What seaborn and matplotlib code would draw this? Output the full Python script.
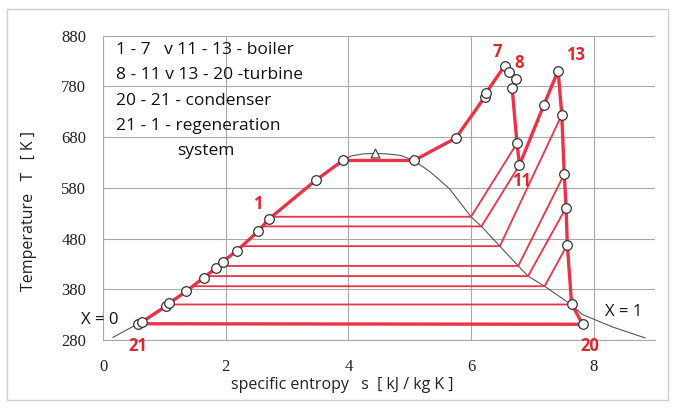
import numpy as np
import pandas as pd
import matplotlib
matplotlib.use("Agg")
import matplotlib.pyplot as plt
from matplotlib.patches import Rectangle
import seaborn as sns

# cycle points, s [kJ/kgK] and T [K], in order 21 -> 1 -> 7 -> 11 -> 13 -> 20
cycle_s = [0.57, 0.63, 1.03, 1.07, 1.36, 1.64, 1.84, 1.95, 2.18, 2.53, 2.70,
           3.47, 3.91, 5.07, 5.75, 6.23, 6.25, 6.55, 6.62, 6.74, 6.67, 6.75,
           6.79, 7.19, 7.42, 7.48, 7.52, 7.55, 7.57, 7.64, 7.82]
cycle_T = [312, 315, 347, 352, 376, 403, 421, 434, 456, 494, 518,
           595, 634, 634, 678, 760, 768, 821, 809, 795, 777, 668,
           625, 744, 811, 724, 607, 541, 468, 351, 311]

# regeneration line (21 -> 1 -> saturated liquid)
liq_s = cycle_s[:13]
liq_T = cycle_T[:13]

# bleed steam: heater temperature, point on X = 1, extraction point
bleed_T = [523, 504, 465, 426, 406, 386, 350]
bleed_s_sat = [6.00, 6.17, 6.47, 6.77, 6.93, 7.20, 7.63]
bleed_src_s = [6.75, 6.79, 7.48, 7.52, 7.55, 7.57, 7.64]
bleed_src_T = [668, 625, 724, 607, 541, 468, 351]

# saturation dome
dome_s = [0.16, 0.60, 1.36, 2.18, 2.70, 3.47, 3.91, 4.05, 4.25, 4.43, 4.62,
          4.85, 5.07, 5.35, 5.65, 6.00, 6.17, 6.47, 6.77, 6.93, 7.20, 7.63,
          7.82, 8.30, 8.84]
dome_T = [285, 314, 376, 456, 518, 595, 634, 643, 647, 648, 647,
          644, 634, 610, 578, 523, 504, 465, 426, 406, 386, 350,
          330, 306, 284]
crit_s = [4.43]
crit_T = [648]

x_ticks = [0, 2, 4, 6, 8]
y_ticks = [280, 380, 480, 580, 680, 780, 880]

red = "#ea3348"
lab_red = "#e2262e"
grid = "#a8a8a8"

sns.set_theme(style="white")
plt.rcParams["font.family"] = ["Open Sans", "DejaVu Sans"]

fig = plt.figure(figsize=(6.75, 4.08), dpi=100)
ax = fig.add_axes([0.1526, 0.1667, 0.8178, 0.7458])

ax.set_xlim(0, 9)
ax.set_ylim(280, 880)
ax.set_xticks(x_ticks)
ax.set_yticks(y_ticks)
ax.grid(True, color=grid, linewidth=0.8)
for side in ["top", "right"]:
    ax.spines[side].set_visible(False)
for side in ["left", "bottom"]:
    ax.spines[side].set_color(grid)
    ax.spines[side].set_linewidth(0.8)
ax.tick_params(axis="both", direction="out", length=5, width=0.8,
               color=grid, labelsize=12, colors="#222222")
ax.tick_params(axis="x", pad=9)
ax.tick_params(axis="y", pad=7)
for lbl in ax.get_xticklabels() + ax.get_yticklabels():
    lbl.set_fontfamily("Liberation Serif")

# saturation curve
ax.plot(dome_s, dome_T, color="#555555", linewidth=0.8, zorder=2)

# bleed lines: extraction -> X = 1 -> heater on the regeneration line
for T, s_sat, s_src, T_src in zip(bleed_T, bleed_s_sat, bleed_src_s, bleed_src_T):
    s_liq = np.interp(T, liq_T, liq_s)
    ax.plot([s_src, s_sat, s_liq], [T_src, T, T], color=red,
            linewidth=1.3, zorder=3, solid_capstyle="butt")

# main cycle, closed through the condenser
df = pd.DataFrame({"s": cycle_s + [cycle_s[0]], "T": cycle_T + [cycle_T[0]]})
sns.lineplot(data=df, x="s", y="T", sort=False, estimator=None, color=red,
             linewidth=2.4, ax=ax, zorder=4)
sns.scatterplot(x=cycle_s, y=cycle_T, ax=ax, s=48, color="white",
                edgecolor="#333333", linewidth=0.9, zorder=5)
ax.scatter(crit_s, crit_T, marker="^", s=40, facecolor="white",
           edgecolor="#444444", linewidth=0.9, zorder=5)

ax.set_xlabel("specific entropy   s  [ kJ / kg K ]", fontsize=11.5,
              color="#222222")
ax.set_ylabel("Temperature   T   [ K ]", fontsize=11.5, color="#222222")
ax.xaxis.set_label_coords(0.433, -0.12)
ax.yaxis.set_label_coords(-0.12, 0.424)

# legend text
notes = ["1 - 7   v 11 - 13 - boiler", "8 - 11 v 13 - 20 -turbine",
         "20 - 21 - condenser", "21 - 1 - regeneration"]
for i, line in enumerate(notes):
    ax.text(0.21, 852 - i * 50, line, fontsize=12.5, va="center", ha="left",
            color="#111111")
ax.text(1.21, 653, "system", fontsize=12.5, va="center", ha="left",
        color="#111111")

# point labels
for txt, s, T in [("7", 6.42, 848), ("8", 6.78, 826), ("13", 7.71, 842),
                  ("11", 6.82, 594), ("1", 2.53, 548), ("21", 0.57, 268),
                  ("20", 7.94, 268)]:
    ax.text(s, T, txt, color=lab_red, fontsize=12, fontweight="bold",
            ha="center", va="center", clip_on=False, zorder=6)
ax.text(-0.05, 319, "X = 0", fontsize=12, ha="center", va="center",
        clip_on=False, color="#111111")
ax.text(8.48, 335, "X = 1", fontsize=12, ha="center", va="center",
        color="#111111")

fig.add_artist(Rectangle((0.0104, 0.0196), 0.9792, 0.9584,
                         transform=fig.transFigure, fill=False,
                         edgecolor="#cfcfcf", linewidth=1.0))

plt.savefig("out.png", dpi=100)
plt.close()
